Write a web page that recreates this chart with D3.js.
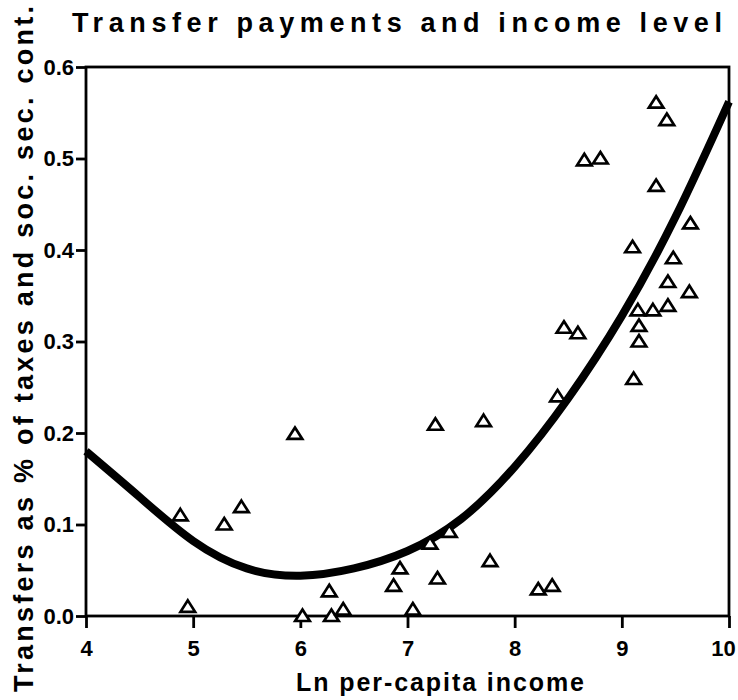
<!DOCTYPE html>
<html><head><meta charset="utf-8">
<script src="https://cdn.jsdelivr.net/npm/d3@7"></script>
<style>body{margin:0;background:#fff}svg{display:block}</style>
</head><body><svg id="c" width="738" height="700"></svg>
<script>
const title = "Transfer payments and income level";
const xLabel = "Ln per-capita income";
const yLabel = "Transfers as % of taxes and soc. sec. cont.";
const xTicks = [4,5,6,7,8,9,10];
const xTickLabels = ["4","5","6","7","8","9","10"];
const yTicks = [0,0.1,0.2,0.3,0.4,0.5,0.6];
const yTickLabels = ["0.0","0.1","0.2","0.3","0.4","0.5","0.6"];

// observations (triangles)
const obsX = [4.88,5.29,5.45,5.95,4.95,6.02,6.27,6.29,6.40,
              8.40,7.26,7.71,7.39,7.21,7.77,6.93,7.28,6.87,8.22,8.35,7.05,
              9.32,9.42,8.65,8.80,9.32,9.64,9.10,9.48,9.43,9.63,9.43,9.15,9.29,
              8.46,8.59,9.16,9.16,9.11];
const obsY = [0.110,0.100,0.119,0.199,0.010,0.000,0.027,0.000,0.007,
              0.240,0.209,0.213,0.092,0.079,0.060,0.052,0.041,0.033,0.029,0.033,0.007,
              0.561,0.542,0.498,0.500,0.470,0.429,0.403,0.391,0.365,0.354,0.339,0.334,0.334,
              0.315,0.309,0.317,0.300,0.259];

// fitted curve
const fitX = [4,4.5,5,5.5,6,6.5,7,7.5,8,8.5,9,9.5,10];
const fitY = [0.180,0.130,0.082,0.052,0.044,0.052,0.071,0.106,0.163,0.238,0.328,0.436,0.562];

(function(){
const svg = d3.select("#c");
const FONT = "'Liberation Sans', Arial, sans-serif";
const pL = 86, pR = 729, pT = 67, pB = 616;
const x = d3.scaleLinear().domain([4,10]).range([pL,pR]);
const y = d3.scaleLinear().domain([0,0.6]).range([pB,pT]);

// frame
svg.append("rect").attr("x",pL).attr("y",pT).attr("width",pR-pL).attr("height",pB-pT)
  .attr("fill","none").attr("stroke","#000").attr("stroke-width",2.8);

// axes
const xAxis = svg.append("g").attr("transform",`translate(0,${pB})`)
  .call(d3.axisBottom(x).tickValues(xTicks).tickFormat((d,i)=>xTickLabels[i]).tickSize(12).tickPadding(12));
const yAxis = svg.append("g").attr("transform",`translate(${pL},0)`)
  .call(d3.axisLeft(y).tickValues(yTicks).tickFormat((d,i)=>yTickLabels[i]).tickSize(10).tickPadding(2));
[xAxis,yAxis].forEach(g=>{
  g.select(".domain").remove();
  g.selectAll(".tick line").attr("stroke","#000").attr("stroke-width",2.8);
  g.selectAll(".tick text").attr("fill","#000").attr("font-family",FONT)
    .attr("font-weight","bold").attr("font-size",22);
});
xAxis.selectAll(".tick text").filter((d)=>d===10).attr("dx",-6);

// fitted curve
const line = d3.line().x((d,i)=>x(fitX[i])).y((d,i)=>y(fitY[i])).curve(d3.curveNatural);
svg.append("path").datum(fitX).attr("d",line).attr("fill","none")
  .attr("stroke","#000").attr("stroke-width",8).attr("stroke-linecap","butt");

// triangles
svg.append("g").selectAll("path").data(obsX).join("path")
  .attr("transform",(d,i)=>`translate(${x(obsX[i])},${y(obsY[i])})`)
  .attr("d","M0,-6.5L7.3,5L-7.3,5Z")
  .attr("fill","#fff").attr("stroke","#000").attr("stroke-width",2.7).attr("stroke-linejoin","miter");

// title
svg.append("text").attr("x",72).attr("y",32).attr("font-family",FONT).attr("font-weight","bold")
  .attr("font-size",27).attr("textLength",650).attr("lengthAdjust","spacing").text(title);

// x label
svg.append("text").attr("x",440).attr("y",691).attr("text-anchor","middle").attr("font-family",FONT)
  .attr("font-weight","bold").attr("font-size",25).attr("textLength",288).attr("lengthAdjust","spacing").text(xLabel);

// y label
svg.append("text").attr("transform","translate(33,692) rotate(-90)").attr("x",0).attr("y",0)
  .attr("font-family",FONT).attr("font-weight","bold").attr("font-size",27)
  .attr("textLength",686).attr("lengthAdjust","spacing").text(yLabel);
})();
</script></body></html>
